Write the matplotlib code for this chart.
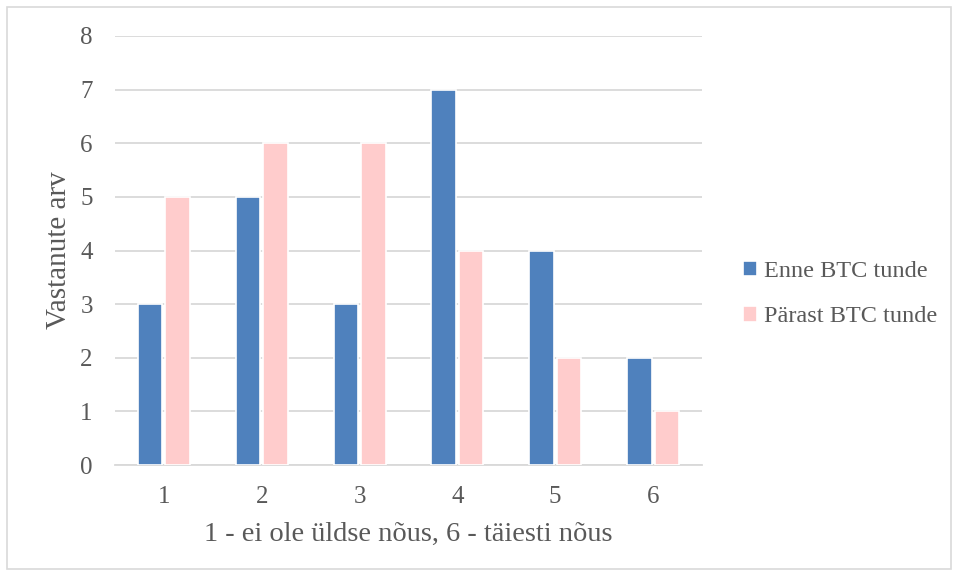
import matplotlib.pyplot as plt
import numpy as np
from matplotlib.patches import Rectangle

# Survey answers on a 1..6 scale, before and after the BTC lessons
categories = ['1', '2', '3', '4', '5', '6']
enne = [3, 5, 3, 7, 4, 2]
parast = [5, 6, 6, 4, 2, 1]

blue = '#4f81bd'
pink = '#ffcccc'
text_col = '#595959'
grid_col = '#d9d9d9'

plt.rcParams['font.family'] = ['Liberation Serif', 'DejaVu Serif']

fig = plt.figure(figsize=(9.59, 5.76), dpi=100)
ax = fig.add_axes([115 / 959, 1 - 465 / 576, (702 - 115) / 959, (465 - 36) / 576])

x = np.arange(len(categories))
w = 0.25
ax.bar(x - 0.14, enne, w, color=blue, edgecolor='white', linewidth=1.2,
       label='Enne BTC tunde', zorder=3)
ax.bar(x + 0.14, parast, w, color=pink, edgecolor='white', linewidth=1.2,
       label='Pärast BTC tunde', zorder=3)

ax.set_xlim(-0.5, len(categories) - 0.5)
ax.set_ylim(0, 8)
ax.set_yticks(range(0, 9))
ax.set_xticks(x)
ax.set_xticklabels(categories)
ax.yaxis.grid(True, color=grid_col, linewidth=1.3, zorder=0)
ax.set_axisbelow(True)
for s in ['top', 'right', 'left']:
    ax.spines[s].set_visible(False)
ax.spines['bottom'].set_color(grid_col)
ax.spines['bottom'].set_linewidth(1.3)
ax.tick_params(length=0, labelsize=18, colors=text_col)
ax.tick_params(axis='x', pad=15)
ax.tick_params(axis='y', pad=16)

ax.set_xlabel('1 - ei ole üldse nõus, 6 - täiesti nõus', fontsize=20.5,
              color=text_col, labelpad=10)
ax.set_ylabel('Vastanute arv', fontsize=21, color=text_col, labelpad=6)

leg = fig.legend(loc='center left', bbox_to_anchor=(721 / 959, 1 - 294 / 576),
                 frameon=False, fontsize=17.5, handlelength=0.6, handleheight=0.6,
                 handletextpad=0.25, labelspacing=1.0)
for t in leg.get_texts():
    t.set_color(text_col)

# outer chart border
fig.patches.append(Rectangle((7 / 959, 7 / 576), 944 / 959, 562 / 576,
                             transform=fig.transFigure, fill=False,
                             edgecolor='#d9d9d9', linewidth=1.2))

fig.savefig('out.png', dpi=100)
